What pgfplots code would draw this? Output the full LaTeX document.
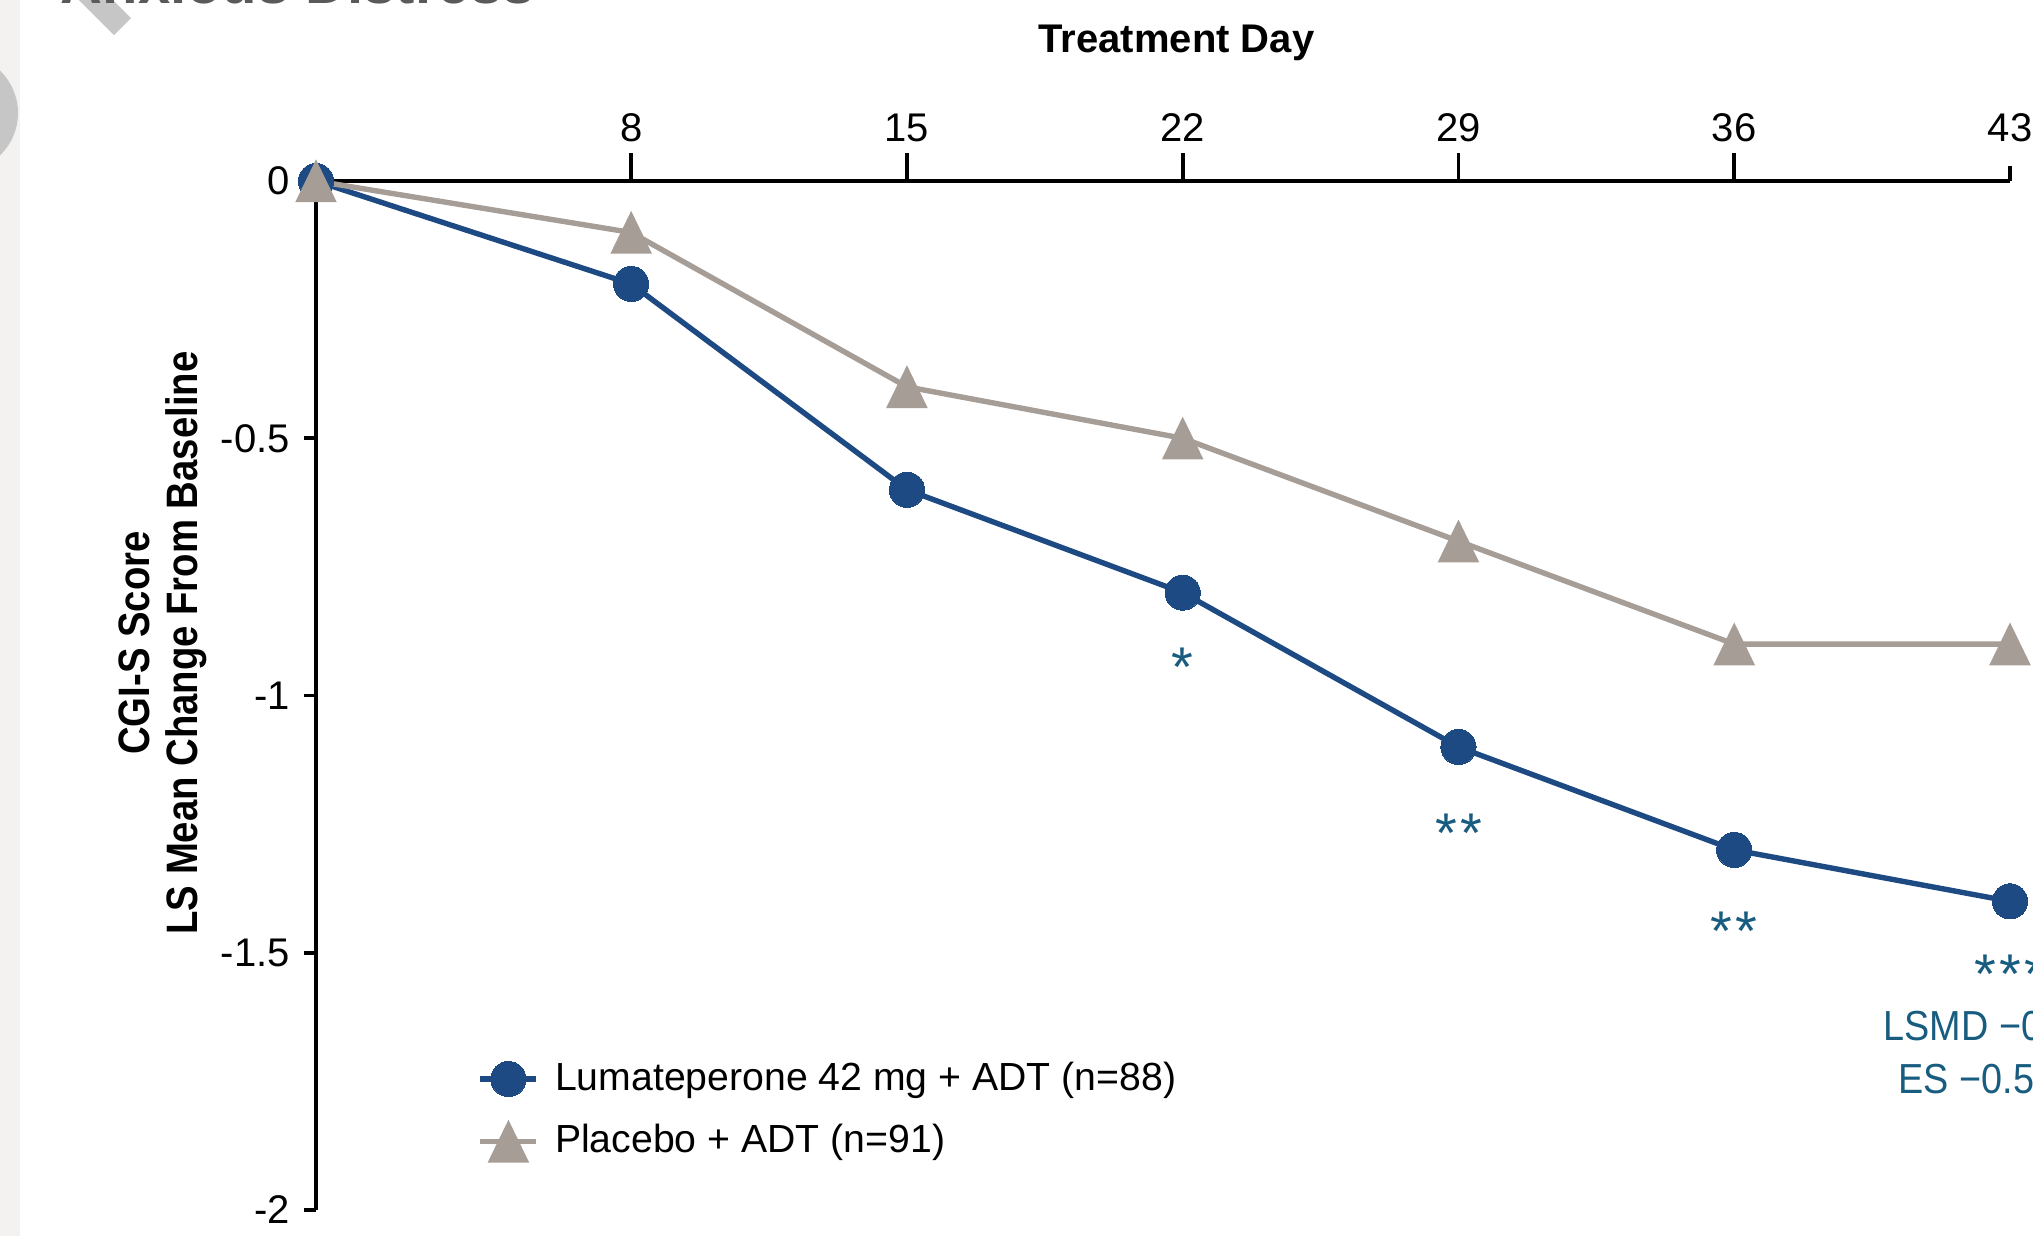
\documentclass[border=0pt]{standalone}
\usepackage{fontspec}
\setmainfont{Liberation Sans}
\newfontfamily\condf[FakeStretch=0.87]{Liberation Sans}
\newfontfamily\annf[FakeStretch=0.9]{Liberation Sans}
\usepackage{pgfplots}
\pgfplotsset{compat=1.18}
\definecolor{lumablue}{RGB}{29,74,130}
\definecolor{placgray}{RGB}{166,157,151}
\definecolor{annot}{RGB}{24,92,128}
\definecolor{stripc}{RGB}{243,242,240}
\definecolor{deco}{RGB}{198,198,198}
\definecolor{titlegray}{RGB}{90,90,90}
\pgfdeclareplotmark{tri}{%
  \pgfpathmoveto{\pgfqpoint{0pt}{5.4pt}}%
  \pgfpathlineto{\pgfqpoint{5.2pt}{-5.3pt}}%
  \pgfpathlineto{\pgfqpoint{-5.2pt}{-5.3pt}}%
  \pgfpathclose\pgfusepathqfill}
\pgfplotstableread{
day  val
0    0
8   -0.2
15  -0.6
22  -0.8
29  -1.1
36  -1.3
43  -1.4
}\lumadata
\pgfplotstableread{
day  val
0    0
8   -0.1
15  -0.4
22  -0.5
29  -0.7
36  -0.9
43  -0.9
}\placdata
\begin{document}
\begin{tikzpicture}
\begin{scope}[x=0.25pt,y=-0.25pt]
  \fill[stripc] (0,-10) rectangle (20,1245);
  \fill[deco] (-41,113) circle [radius=59];
  \fill[deco] (114,35) -- (131,18) -- (71,-42) -- (54,-25) -- cycle;
  \node[anchor=base west, inner sep=0pt, text=titlegray, font=\fontsize{14.5}{17}\selectfont\bfseries] at (60,3) {Anxious Distress};
\end{scope}
\begin{axis}[
  at={(79pt,-302.5pt)}, anchor=south west,
  scale only axis, width=423.5pt, height=257.25pt,
  xmin=0, xmax=43, ymin=-2, ymax=0,
  clip=false,
  axis x line=top, axis y line=left,
  axis line style={line width=0.9pt, -},
  tick align=outside,
  major tick length=3pt,
  xtick style={line width=0.9pt, black, /pgfplots/major tick length=7pt},
  ytick style={line width=0.9pt, black},
  xtick={8,15,22,29,36},
  xticklabels={8,15,22,29,36},
  extra x ticks={43},
  extra x tick labels={43},
  extra x tick style={xtick style={line width=0.9pt, black, /pgfplots/major tick length=3.75pt}},
  ytick={-2,-1.5,-1,-0.5,0},
  yticklabels={-2,-1.5,-1,-0.5,0},
  ticklabel style={font=\fontsize{10}{12}\selectfont},
  xticklabel style={yshift=3.25pt},
  xlabel={Treatment Day},
  xlabel style={at={(axis description cs:0.508,1)}, anchor=center, yshift=34.5pt, font=\bfseries\fontsize{10}{12}\selectfont},
  ylabel={CGI-S Score\\LS Mean Change From Baseline},
  ylabel style={at={(axis description cs:-0.0905,0.551)}, anchor=center, align=center, font=\condf\bfseries\fontsize{11}{11.9}\selectfont},
  legend style={at={(axis description cs:0.095,0.097)}, anchor=west, draw=none, fill=none, inner sep=0pt,
    font=\fontsize{9.8}{12}\selectfont, row sep=3pt},
  legend cell align=left,
  legend image code/.code={\draw[#1, mark repeat=2, mark phase=2] plot coordinates {(0pt,0pt) (7pt,0pt) (14pt,0pt)}; \path (16pt,0pt);},
]
\addplot[lumablue, line width=1.35pt, mark=*, mark size=4.4pt, mark options={solid, fill=lumablue, draw=lumablue, line width=0pt}] table[x=day, y=val] {\lumadata};
\addlegendentry{Lumateperone 42 mg + ADT (n=88)}
\addplot[placgray, line width=1.35pt, mark=tri, mark options={solid, fill=placgray}] table[x=day, y=val] {\placdata};
\addlegendentry{Placebo + ADT (n=91)}
\node[text=annot, font=\fontsize{14}{14}\selectfont, inner sep=0pt] at (axis cs:22,-0.945) {*};
\node[text=annot, font=\fontsize{14}{14}\selectfont, inner sep=0pt] at (axis cs:29,-1.267) {*\kern0.8pt*};
\node[text=annot, font=\fontsize{14}{14}\selectfont, inner sep=0pt] at (axis cs:36,-1.458) {*\kern0.8pt*};
\node[text=annot, font=\fontsize{14}{14}\selectfont, inner sep=0pt] at (axis cs:43,-1.542) {*\kern0.8pt*\kern0.8pt*};
\node[text=annot, anchor=west, font=\annf\fontsize{10.5}{12}\selectfont, inner sep=0pt] at (axis cs:39.77,-1.642) {LSMD −0};
\node[text=annot, anchor=west, font=\annf\fontsize{10.5}{12}\selectfont, inner sep=0pt] at (axis cs:40.15,-1.746) {ES −0.5};
\end{axis}
\pgfresetboundingbox
\path[use as bounding box] (0pt,0pt) rectangle (508.25pt,-308.75pt);
\end{tikzpicture}
\end{document}
